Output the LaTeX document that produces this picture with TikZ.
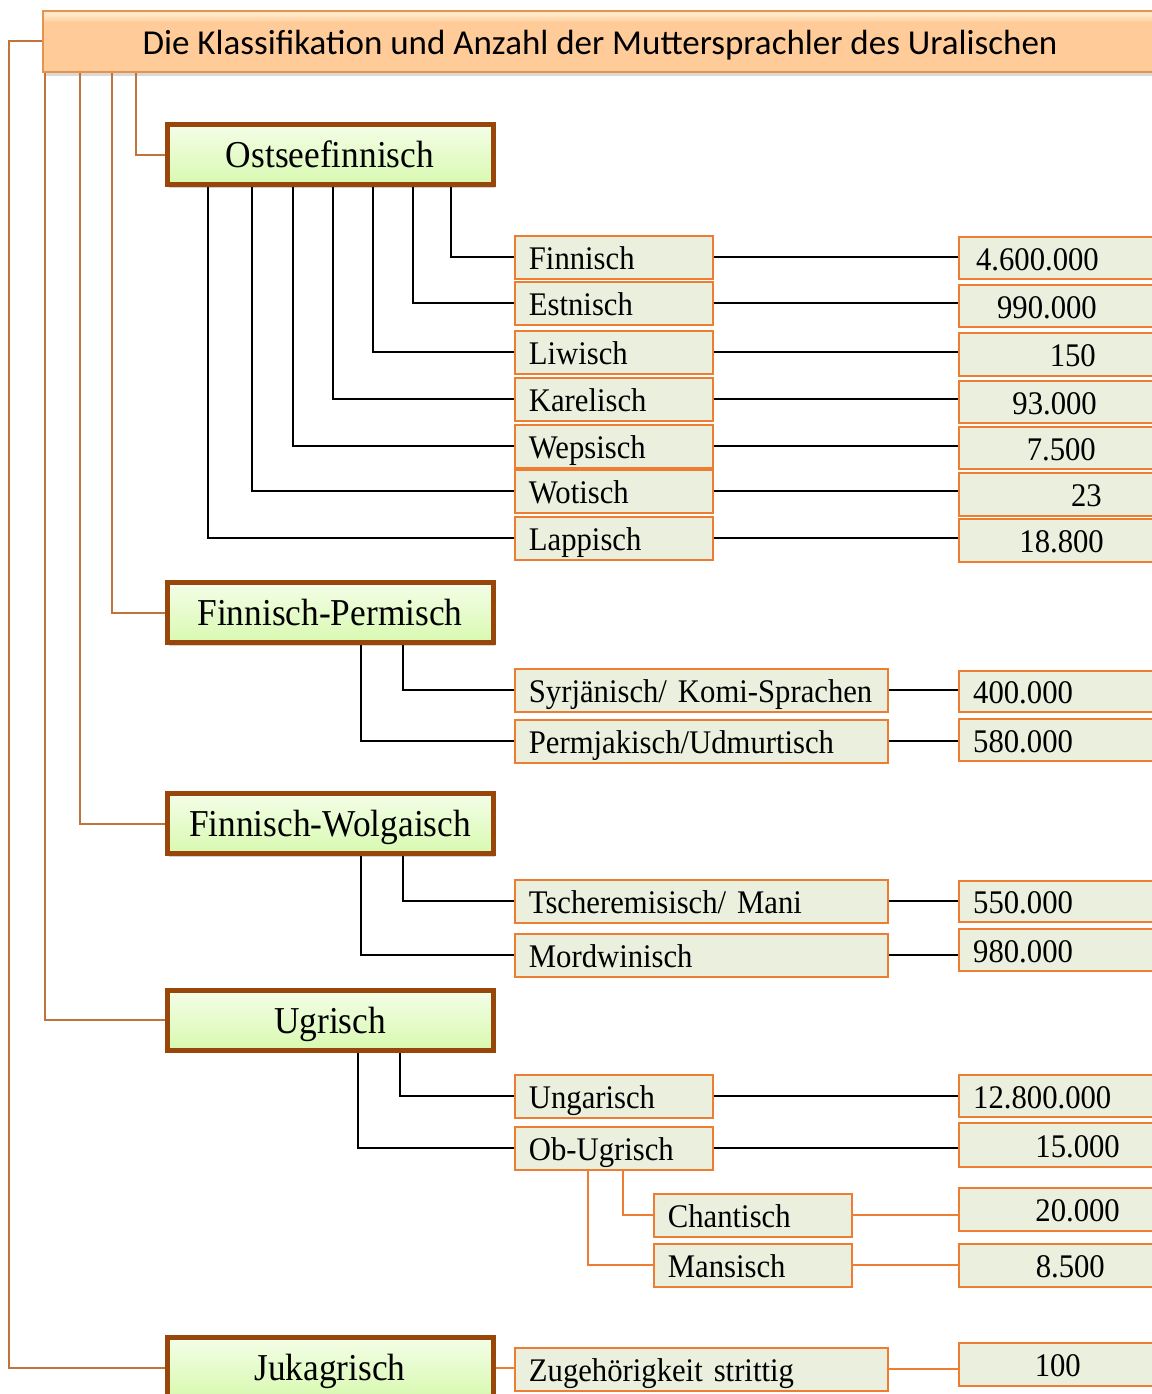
\documentclass[tikz,border=0pt]{standalone}
\usepackage{fontspec}
\setmainfont{Liberation Serif}
\newfontfamily\serifc[FakeStretch=0.93]{Liberation Serif}
\newfontfamily\titlefont{Carlito}
\usetikzlibrary{shadows,calc}
\definecolor{leaffill}{RGB}{235,239,222}
\definecolor{leafborder}{RGB}{237,125,49}
\definecolor{catborder}{RGB}{152,70,10}
\definecolor{cattop}{RGB}{244,254,232}
\definecolor{catbot}{RGB}{216,249,176}
\definecolor{titlefill}{RGB}{255,204,153}
\definecolor{titletop}{RGB}{255,232,200}
\definecolor{titleborder}{RGB}{227,149,80}
\definecolor{tcol}{RGB}{192,115,58}
\pgfdeclareverticalshading{titleshade}{100bp}{color(0bp)=(titlefill); color(25bp)=(titlefill); color(66bp)=(titlefill); color(72bp)=(titletop); color(75bp)=(titletop); color(100bp)=(titletop)}
\begin{document}
\begin{tikzpicture}[x=1pt,y=-1pt,
  titlebox/.style={draw=titleborder, line width=2pt, shading=titleshade,
    minimum width=1114pt, minimum height=61pt, inner sep=0pt,
    font=\titlefont\fontsize{35}{38}\selectfont, text height=27pt, text depth=0pt,
    drop shadow={shadow xshift=1pt, shadow yshift=-4pt, opacity=0.3}},
  cat/.style={draw=catborder, line width=5pt, top color=cattop, bottom color=catbot,
    minimum width=326pt, minimum height=60pt, inner sep=0pt,
    font=\serifc\fontsize{38}{40}\selectfont, text height=26pt, text depth=0pt,
    drop shadow={shadow xshift=2pt, shadow yshift=-3pt, opacity=0.35}},
  leaf/.style={draw=leafborder, fill=leaffill, line width=1.8pt, inner xsep=14pt, inner ysep=0pt,
    anchor=north west, font=\serifc\fontsize{33}{36}\selectfont,
    text height=24pt, text depth=0pt, align=left, minimum height=43pt},
  leafA/.style={leaf, text width=170pt},
  leafB/.style={leaf, text width=345pt},
  num/.style={draw=leafborder, fill=leaffill, line width=1.8pt, anchor=north west,
    minimum width=220pt, inner sep=0pt},
  numtxt/.style={font=\serifc\fontsize{33}{36}\selectfont, inner sep=0pt},
  tc/.style={draw=tcol, line width=2pt},
  bl/.style={draw=black, line width=2pt},
  oc/.style={draw=leafborder, line width=2pt}
]
\useasboundingbox (0,0) rectangle (1151,1394);

% title
\node[titlebox] (title) at (600,41.5) {Die Klassifikation und Anzahl der Muttersprachler des Uralischen};

% categories
\node[cat] (ost) at (330,154.5) {Ostseefinnisch};
\node[cat] (fp) at (330,612.5) {Finnisch-Permisch};
\node[cat] (fw) at (330,823.5) {Finnisch-Wolgaisch};
\node[cat] (ugr) at (330,1020) {Ugrisch};
\node[cat] (juk) at (330,1367.5) {Jukagrisch};

% leaves
\node[leafA] (finn) at (514,235) {Finnisch};
\node[leafA] (estn) at (514,281) {Estnisch};
\node[leafA] (liw) at (514,330) {Liwisch};
\node[leafA] (kar) at (514,377) {Karelisch};
\node[leafA] (wep) at (514,424) {Wepsisch};
\node[leafA] (wot) at (514,469) {Wotisch};
\node[leafA] (lap) at (514,516) {Lappisch};
\node[leafB] (syr) at (514,668) {Syrjänisch/ Komi-Sprachen};
\node[leafB] (perm) at (514,719) {Permjakisch/Udmurtisch};
\node[leafB] (tsch) at (514,879) {Tscheremisisch/ Mani};
\node[leafB] (mord) at (514,933) {Mordwinisch};
\node[leafA] (ung) at (514,1074) {Ungarisch};
\node[leafA] (obu) at (514,1126) {Ob-Ugrisch};
\node[leafA] (chan) at (653,1193) {Chantisch};
\node[leafA] (mans) at (653,1243) {Mansisch};
\node[leafB] (zug) at (514,1347) {Zugehörigkeit strittig};

% number boxes
\node[num, minimum height=42pt] (n1) at (958,236) {};
\node[num, minimum height=42pt] (n2) at (958,284) {};
\node[num, minimum height=43pt] (n3) at (958,332) {};
\node[num, minimum height=42pt] (n4) at (958,380) {};
\node[num, minimum height=42pt] (n5) at (958,426) {};
\node[num, minimum height=43pt] (n6) at (958,472) {};
\node[num, minimum height=43pt] (n7) at (958,518) {};
\node[num, minimum height=41pt] (n8) at (958,670) {};
\node[num, minimum height=42pt] (n9) at (958,718) {};
\node[num, minimum height=41pt] (n10) at (958,880) {};
\node[num, minimum height=42pt] (n11) at (958,928) {};
\node[num, minimum height=42pt] (n12) at (958,1074) {};
\node[num, minimum height=44pt] (n13) at (958,1122) {};
\node[num, minimum height=43pt] (n14) at (958,1187) {};
\node[num, minimum height=43pt] (n15) at (958,1243) {};
\node[num, minimum height=43pt] (n16) at (958,1342) {};

% number texts
\node[numtxt, anchor=base east] (t1) at (1099,270) {4.600.000};
\node[numtxt, anchor=base east] (t2) at (1097,318) {990.000};
\node[numtxt, anchor=base east] (t3) at (1096,366.5) {150};
\node[numtxt, anchor=base east] (t4) at (1097,414) {93.000};
\node[numtxt, anchor=base east] (t5) at (1096,460) {7.500};
\node[numtxt, anchor=base east] (t6) at (1102,506.5) {23};
\node[numtxt, anchor=base east] (t7) at (1104,552.5) {18.800};
\node[numtxt, anchor=base west] (t8) at (973,703.5) {400.000};
\node[numtxt, anchor=base west] (t9) at (973,752) {580.000};
\node[numtxt, anchor=base west] (t10) at (973,913.5) {550.000};
\node[numtxt, anchor=base west] (t11) at (973,962) {980.000};
\node[numtxt, anchor=base west] (t12) at (973,1108) {12.800.000};
\node[numtxt, anchor=base east] (t13) at (1120,1157) {15.000};
\node[numtxt, anchor=base east] (t14) at (1120,1221.5) {20.000};
\node[numtxt, anchor=base east] (t15) at (1105,1277.5) {8.500};
\node[numtxt, anchor=base east] (t16) at (1081,1376.5) {100};

% title connectors
\draw[tc] (title.west) -- ++(-33,0) |- (juk.west);
\draw[tc] (title.south west) ++(3,0) |- (ugr.west);
\draw[tc] (title.south west) ++(38,0) |- (fw.west);
\draw[tc] (title.south west) ++(70,0) |- (fp.west);
\draw[tc] (title.south west) ++(94,0) |- (ost.west);

% Ostseefinnisch
\draw[bl] (ost.south west) ++(286,0) |- (finn.west);
\draw[bl] (ost.south west) ++(248,0) |- (estn.west);
\draw[bl] (ost.south west) ++(208,0) |- (liw.west);
\draw[bl] (ost.south west) ++(168,0) |- (kar.west);
\draw[bl] (ost.south west) ++(128,0) |- (wep.west);
\draw[bl] (ost.south west) ++(87,0) |- (wot.west);
\draw[bl] (ost.south west) ++(43,0) |- (lap.west);

% Finnisch-Permisch
\draw[bl] (fp.south west) ++(238,0) |- (syr.west);
\draw[bl] (fp.south west) ++(196,0) |- (perm.west);
% Finnisch-Wolgaisch
\draw[bl] (fw.south west) ++(238,0) |- (tsch.west);
\draw[bl] (fw.south west) ++(196,0) |- (mord.west);
% Ugrisch
\draw[bl] (ugr.south west) ++(235,0) |- (ung.west);
\draw[bl] (ugr.south west) ++(193,0) |- (obu.west);
% Ob-Ugrisch
\draw[oc] (obu.south west) ++(109,0) |- (chan.west);
\draw[oc] (obu.south west) ++(74,0) |- (mans.west);
% Jukagrisch
\draw[oc] (juk.east) -- (juk.east -| zug.west);

% leaf to numbers
\draw[bl] (finn.east) -- (finn.east -| n1.west);
\draw[bl] (estn.east) -- (estn.east -| n2.west);
\draw[bl] (liw.east) -- (liw.east -| n3.west);
\draw[bl] (kar.east) -- (kar.east -| n4.west);
\draw[bl] (wep.east) -- (wep.east -| n5.west);
\draw[bl] (wot.east) -- (wot.east -| n6.west);
\draw[bl] (lap.east) -- (lap.east -| n7.west);
\draw[bl] (syr.east) -- (syr.east -| n8.west);
\draw[bl] (perm.east) -- (perm.east -| n9.west);
\draw[bl] (tsch.east) -- (tsch.east -| n10.west);
\draw[bl] (mord.east) -- (mord.east -| n11.west);
\draw[bl] (ung.east) -- (ung.east -| n12.west);
\draw[bl] (obu.east) -- (obu.east -| n13.west);
\draw[oc] (chan.east) -- (chan.east -| n14.west);
\draw[oc] (mans.east) -- (mans.east -| n15.west);
\draw[oc] (zug.east) -- (zug.east -| n16.west);
\end{tikzpicture}
\end{document}
